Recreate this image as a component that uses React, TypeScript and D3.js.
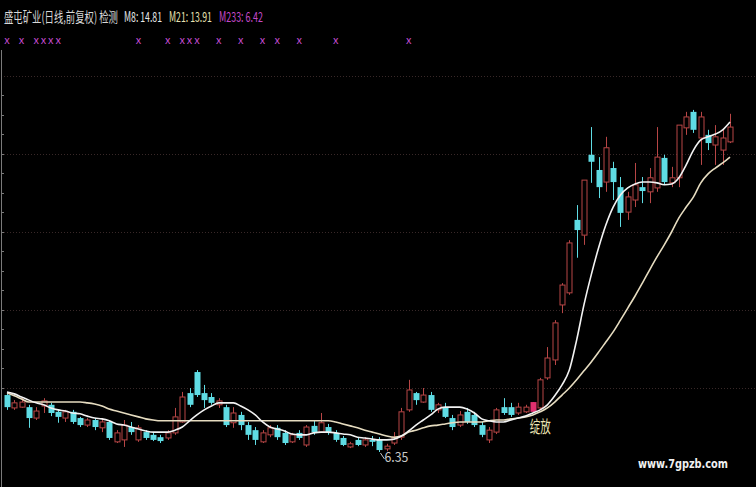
import React, { useEffect, useRef } from 'react';
import * as d3 from 'd3';

// 盛屯矿业 daily candles (前复权)
const opens = [
  7.81, 7.48, 7.50, 7.50, 7.22, 7.53, 7.56, 7.38, 7.22, 7.38,
  7.22, 7.04, 7.17, 6.97, 7.12, 6.61, 6.66, 6.99, 6.66, 6.86,
  6.79, 6.73, 6.71, 6.84, 7.12, 7.86, 8.40, 7.86, 7.76, 7.56,
  7.50, 7.10, 7.30, 7.04, 6.91, 6.61, 6.79, 6.97, 6.84, 6.61,
  6.84, 6.53, 7.02, 6.86, 6.99, 6.84, 6.71, 6.48, 6.66, 6.53,
  6.66, 6.66, 6.43, 6.58, 6.73, 7.43, 7.86, 7.63, 7.81, 7.43,
  7.50, 7.22, 7.04, 7.38, 7.30, 7.04, 6.66, 6.86, 7.50, 7.50,
  7.35, 7.38, 7.38, 7.48, 8.25, 8.71, 10.12, 10.43, 12.30, 11.91,
  13.97, 13.58, 13.27, 13.63, 13.14, 12.50, 12.81, 13.14, 13.02, 13.12,
  13.89, 13.25, 13.38, 14.66, 15.07, 14.40, 14.48, 14.22, 14.09, 14.30,
];
const highs = [
  7.86, 7.68, 7.73, 7.56, 7.50, 7.73, 7.61, 7.43, 7.43, 7.43,
  7.25, 7.22, 7.22, 7.22, 7.17, 6.91, 7.17, 7.12, 7.04, 6.91,
  6.84, 6.79, 6.91, 7.48, 7.89, 7.99, 8.45, 8.07, 7.86, 7.73,
  7.56, 7.50, 7.38, 7.12, 6.99, 6.91, 7.04, 7.04, 6.91, 6.84,
  6.91, 7.04, 7.17, 7.35, 7.07, 6.91, 6.76, 6.61, 6.73, 6.73,
  6.76, 6.73, 6.56, 6.86, 7.48, 8.20, 7.89, 7.99, 7.89, 7.61,
  7.61, 7.30, 7.40, 7.48, 7.38, 7.12, 6.99, 7.48, 7.73, 7.61,
  7.61, 7.56, 7.63, 8.25, 9.04, 9.73, 10.68, 11.78, 12.68, 13.32,
  14.68, 13.91, 14.43, 13.79, 13.40, 13.02, 13.76, 13.40, 13.63, 14.68,
  13.97, 13.66, 14.73, 15.07, 15.12, 15.07, 14.61, 14.73, 14.61, 15.02,
];
const lows = [
  7.43, 7.43, 7.48, 6.97, 7.17, 7.35, 7.27, 7.10, 7.12, 7.07,
  6.99, 6.99, 6.91, 6.86, 6.66, 6.58, 6.48, 6.79, 6.61, 6.66,
  6.63, 6.58, 6.66, 6.79, 7.10, 7.50, 7.76, 7.48, 7.56, 7.48,
  6.99, 6.97, 6.91, 6.66, 6.53, 6.58, 6.73, 6.66, 6.53, 6.58,
  6.66, 6.48, 6.79, 6.84, 6.79, 6.61, 6.50, 6.45, 6.50, 6.48,
  6.50, 6.35, 6.37, 6.53, 6.66, 7.38, 7.56, 7.61, 7.38, 7.35,
  7.22, 6.91, 6.99, 7.07, 6.99, 6.73, 6.58, 6.81, 7.30, 7.25,
  7.30, 7.35, 7.35, 7.43, 8.20, 8.58, 9.91, 10.38, 11.33, 11.66,
  13.25, 12.86, 13.02, 12.81, 12.12, 12.30, 12.63, 12.73, 12.73, 13.02,
  13.20, 13.14, 13.14, 14.48, 14.53, 13.71, 14.09, 13.71, 13.71, 14.27,
];
const closes = [
  7.50, 7.61, 7.63, 7.22, 7.40, 7.66, 7.35, 7.25, 7.38, 7.12,
  7.04, 7.17, 6.99, 7.12, 6.71, 6.84, 7.04, 6.86, 6.97, 6.71,
  6.66, 6.63, 6.84, 7.25, 7.76, 7.56, 7.81, 7.68, 7.61, 7.66,
  7.04, 7.35, 7.04, 6.79, 6.66, 6.84, 6.97, 6.73, 6.58, 6.79,
  6.71, 6.99, 6.86, 7.10, 6.84, 6.66, 6.53, 6.56, 6.53, 6.66,
  6.61, 6.40, 6.50, 6.73, 7.38, 7.94, 7.68, 7.81, 7.43, 7.56,
  7.25, 6.99, 7.30, 7.12, 7.04, 6.79, 6.91, 7.43, 7.35, 7.30,
  7.50, 7.50, 7.63, 8.20, 8.76, 9.66, 10.63, 11.71, 12.04, 13.32,
  13.79, 13.14, 14.15, 13.27, 12.48, 12.89, 13.20, 13.04, 13.38, 13.91,
  13.27, 13.38, 14.73, 14.94, 14.61, 14.94, 14.27, 14.43, 14.40, 14.68,
];
const ma8 = [
  7.89, 7.84, 7.76, 7.68, 7.61, 7.56, 7.48, 7.43, 7.40, 7.35,
  7.33, 7.27, 7.22, 7.20, 7.15, 7.07, 7.04, 6.99, 6.94, 6.89,
  6.86, 6.86, 6.86, 6.91, 6.99, 7.15, 7.30, 7.43, 7.53, 7.61,
  7.61, 7.61, 7.53, 7.43, 7.30, 7.12, 6.99, 6.94, 6.89, 6.81,
  6.79, 6.79, 6.84, 6.86, 6.86, 6.84, 6.81, 6.79, 6.73, 6.71,
  6.68, 6.66, 6.66, 6.68, 6.76, 6.89, 7.04, 7.17, 7.30, 7.45,
  7.50, 7.50, 7.50, 7.45, 7.35, 7.20, 7.15, 7.12, 7.12, 7.17,
  7.22, 7.27, 7.35, 7.43, 7.56, 7.79, 8.07, 8.45, 9.22, 10.12,
  10.89, 11.58, 12.17, 12.63, 12.94, 13.12, 13.22, 13.27, 13.27, 13.25,
  13.20, 13.22, 13.38, 13.71, 14.09, 14.35, 14.43, 14.50, 14.61, 14.81,
];
const ma21 = [
  7.86, 7.79, 7.71, 7.63, 7.63, 7.63, 7.63, 7.63, 7.63, 7.63,
  7.63, 7.61, 7.58, 7.53, 7.45, 7.40, 7.35, 7.30, 7.25, 7.20,
  7.17, 7.15, 7.15, 7.15, 7.15, 7.15, 7.15, 7.15, 7.15, 7.15,
  7.15, 7.15, 7.15, 7.15, 7.15, 7.15, 7.15, 7.15, 7.15, 7.15,
  7.15, 7.15, 7.15, 7.15, 7.15, 7.12, 7.07, 7.02, 6.97, 6.91,
  6.86, 6.81, 6.76, 6.73, 6.76, 6.86, 6.91, 6.97, 7.02, 7.04,
  7.07, 7.10, 7.12, 7.12, 7.12, 7.12, 7.15, 7.17, 7.17, 7.20,
  7.22, 7.25, 7.30, 7.38, 7.48, 7.63, 7.81, 7.99, 8.20, 8.43,
  8.66, 8.91, 9.17, 9.43, 9.73, 10.04, 10.35, 10.68, 11.02, 11.35,
  11.66, 11.99, 12.35, 12.63, 12.89, 13.25, 13.48, 13.63, 13.76, 13.91,
];

// 检测 signals (candle indexes marked with x)
const signalIdx = [0, 2, 4, 5, 6, 7, 18, 22, 24, 25, 26, 29, 32, 35, 37, 40, 45, 55];
const bloomIdx = 72; // 绽放
const lowIdx = 51; // 6.35
const gridPrices = [8, 10, 12, 14, 16];

const title = '盛屯矿业(日线,前复权) 检测';
const maTexts = ['M8: 14.81', 'M21: 13.91', 'M233: 6.42'];

const W = 756;
const H = 487;
const FONT = '"Noto Sans CJK SC", "Noto Sans", sans-serif';

// squeeze a text horizontally so it spans `width` px (the original font is narrow)
function narrowText(
  parent: d3.Selection<SVGGElement, unknown, null, undefined>,
  str: string, x: number, y: number, width: number, size: number, color: string
) {
  const g = parent.append('g');
  const t = g.append('text').attr('x', 0).attr('y', 0).attr('fill', color)
    .style('font-family', FONT).style('font-size', `${size}px`).text(str);
  const len = (t.node() as SVGTextElement).getComputedTextLength() || width;
  g.attr('transform', `translate(${x},${y}) scale(${width / len},1)`);
  return g;
}

export default function App() {
  const ref = useRef<SVGSVGElement>(null);

  useEffect(() => {
    if (!ref.current) return;
    const svg = d3.select(ref.current);
    svg.selectAll('*').remove();

    const x = d3.scaleLinear().domain([0, closes.length - 1]).range([7, 730]);
    const y = d3.scaleLinear().domain([6.35, 14.81]).range([452, 122]);
    const bw = 5;

    svg.append('rect').attr('width', W).attr('height', H).attr('fill', '#000');

    // dotted grid
    svg.append('g').selectAll('line').data(gridPrices).enter().append('line')
      .attr('x1', 4).attr('x2', W)
      .attr('y1', d => Math.round(y(d)) + 0.5).attr('y2', d => Math.round(y(d)) + 0.5)
      .attr('stroke', '#382828').attr('stroke-dasharray', '1,2');

    // left axis
    svg.append('line').attr('x1', 1.5).attr('x2', 1.5).attr('y1', 50).attr('y2', H)
      .attr('stroke', '#7a7a7a');
    svg.append('g').selectAll('line').data(d3.range(8, 16, 0.5)).enter().append('line')
      .attr('x1', 1).attr('x2', 4)
      .attr('y1', d => Math.round(y(d)) + 0.5).attr('y2', d => Math.round(y(d)) + 0.5)
      .attr('stroke', '#7a7a7a');

    const idx = d3.range(closes.length);
    const upColor = '#b84646';
    const downColor = '#5fdce4';
    const bloomColor = '#e0306e';

    const g = svg.append('g');
    idx.forEach(i => {
      const cx = Math.round(x(i)) + 0.5;
      const o = opens[i], c = closes[i];
      const up = c >= o;
      const top = y(Math.max(o, c));
      const bot = y(Math.min(o, c));
      const col = up ? upColor : downColor;
      if (i === bloomIdx) {
        g.append('line').attr('x1', cx).attr('x2', cx).attr('y1', y(highs[i])).attr('y2', y(lows[i]))
          .attr('stroke', bloomColor);
        g.append('rect').attr('x', cx - bw / 2 - 0.5).attr('y', top).attr('width', bw + 1).attr('height', Math.max(1, bot - top))
          .attr('fill', bloomColor);
        return;
      }
      if (up) {
        g.append('line').attr('x1', cx).attr('x2', cx).attr('y1', y(highs[i])).attr('y2', top).attr('stroke', col);
        g.append('line').attr('x1', cx).attr('x2', cx).attr('y1', bot).attr('y2', y(lows[i])).attr('stroke', col);
        g.append('rect').attr('x', cx - bw / 2).attr('y', top).attr('width', bw).attr('height', Math.max(1, bot - top))
          .attr('fill', '#000').attr('stroke', col).attr('stroke-width', 1);
      } else {
        g.append('line').attr('x1', cx).attr('x2', cx).attr('y1', y(highs[i])).attr('y2', y(lows[i])).attr('stroke', col);
        g.append('rect').attr('x', cx - bw / 2 - 0.5).attr('y', top).attr('width', bw + 1).attr('height', Math.max(1.5, bot - top))
          .attr('fill', col);
      }
    });

    // moving averages
    const line = (vals: number[]) => d3.line<number>()
      .x(i => x(i)).y(i => y(vals[i])).curve(d3.curveMonotoneX)(idx);
    svg.append('path').attr('d', line(ma21)).attr('fill', 'none')
      .attr('stroke', '#e6dcc0').attr('stroke-width', 1.6);
    svg.append('path').attr('d', line(ma8)).attr('fill', 'none')
      .attr('stroke', '#f2f2f2').attr('stroke-width', 1.6);

    // title row
    const head = svg.append('g');
    narrowText(head, title, 4, 22, 114, 14, '#d8d8d8');
    const maPos = [[124, 38], [169, 43], [219, 44]];
    const maCols = ['#e8e8e8', '#e6e0b0', '#c248c8'];
    maTexts.forEach((t, k) => narrowText(head, t, maPos[k][0], 22, maPos[k][1], 14, maCols[k]));

    // signal x row
    svg.append('g').selectAll('text').data(signalIdx).enter().append('text')
      .attr('x', d => x(d)).attr('y', 44).attr('text-anchor', 'middle')
      .attr('fill', '#c44cd0').style('font-family', FONT).style('font-size', '11px')
      .text('x');

    // 绽放 label
    narrowText(svg.append('g'), '绽放', x(bloomIdx) - 3, 433, 21, 17, '#ece4b4');

    // low marker
    const lx = x(lowIdx), ly = y(lows[lowIdx]);
    svg.append('line').attr('x1', lx + 1).attr('y1', ly + 1).attr('x2', lx + 5).attr('y2', ly + 7)
      .attr('stroke', '#c8c8c8');
    narrowText(svg.append('g'), '6.35', lx + 5, ly + 10, 24, 14, '#c8c8c8');

    // watermark
    svg.append('text').attr('x', 638).attr('y', 468).attr('fill', '#f0f0f0')
      .style('font-family', '"DejaVu Sans", sans-serif').style('font-size', '12px').style('font-weight', 'bold')
      .attr('textLength', 90).attr('lengthAdjust', 'spacingAndGlyphs').text('www.7gpzb.com');
  }, []);

  return (
    <svg ref={ref} width={W} height={H}
      style={{ position: 'absolute', left: 0, top: 0, background: '#000' }} />
  );
}
